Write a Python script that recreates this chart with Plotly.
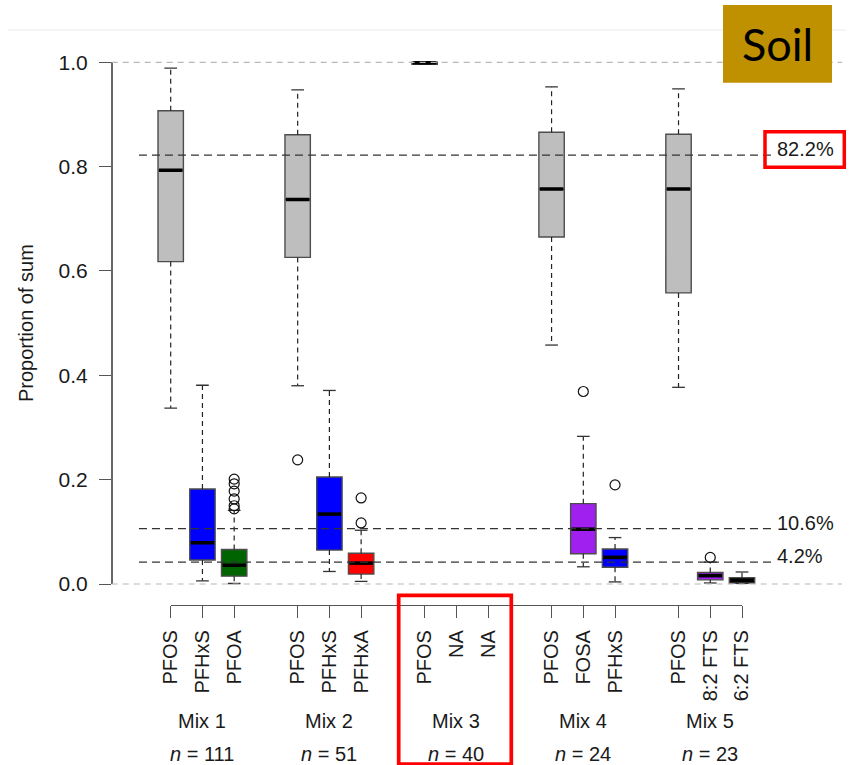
import plotly.graph_objects as go

# ---------------------------------------------------------------- data
mixes = ["Mix 1", "Mix 2", "Mix 3", "Mix 4", "Mix 5"]
n_samples = [111, 51, 40, 24, 23]
compounds = [
    ["PFOS", "PFHxS", "PFOA"],
    ["PFOS", "PFHxS", "PFHxA"],
    ["PFOS", "NA", "NA"],
    ["PFOS", "FOSA", "PFHxS"],
    ["PFOS", "8:2 FTS", "6:2 FTS"],
]
box_colors = [
    ["#BEBEBE", "#0000FF", "#006400"],
    ["#BEBEBE", "#0000FF", "#FF0000"],
    ["#BEBEBE", None, None],
    ["#BEBEBE", "#A020F0", "#0000FF"],
    ["#BEBEBE", "#A020F0", "#000000"],
]

# box statistics (proportion of sum), one row per mix, None = not available
whisker_low = [
    [0.337, 0.006, 0.001],
    [0.380, 0.024, 0.005],
    [0.996, None, None],
    [0.458, 0.033, 0.004],
    [0.377, 0.002, 0.001],
]
quart1 = [
    [0.618, 0.046, 0.015],
    [0.626, 0.065, 0.019],
    [0.996, None, None],
    [0.665, 0.058, 0.032],
    [0.558, 0.008, 0.002],
]
medians = [
    [0.793, 0.079, 0.036],
    [0.737, 0.134, 0.040],
    [0.999, None, None],
    [0.757, 0.105, 0.051],
    [0.757, 0.016, 0.007],
]
quart3 = [
    [0.907, 0.182, 0.066],
    [0.861, 0.205, 0.059],
    [1.000, None, None],
    [0.866, 0.154, 0.067],
    [0.862, 0.022, 0.012],
]
whisker_high = [
    [0.989, 0.381, 0.141],
    [0.947, 0.371, 0.103],
    [1.000, None, None],
    [0.953, 0.283, 0.089],
    [0.949, 0.042, 0.023],
]
outlier_values = [
    [[], [], [0.201, 0.192, 0.178, 0.163, 0.150, 0.144]],
    [[0.238], [], [0.165, 0.117]],
    [[], [], []],
    [[], [0.369], [0.190]],
    [[], [0.051], []],
]

# reference shares drawn as dashed lines
ref_values = [0.822, 0.106, 0.042]
ref_labels = ["82.2%", "10.6%", "4.2%"]
y_ticks = [0.0, 0.2, 0.4, 0.6, 0.8, 1.0]

# ---------------------------------------------------------------- layout geometry
W, H = 851, 765
FONT = "Liberation Sans, Arial, Helvetica, sans-serif"
X_FIRST_PX, X_LAST_PX = 170.7, 742.0      # pixel centres of slot 1 and slot 19
Y0_PX, Y1_PX = 584.0, 62.3                # pixel rows of 0.0 and 1.0
X_UNIT = (X_LAST_PX - X_FIRST_PX) / 18.0
Y_UNIT = (Y0_PX - Y1_PX)


def xdata(px):
    return 1 + (px - X_FIRST_PX) / X_UNIT


def ydata(py):
    return (Y0_PX - py) / Y_UNIT


def pxp(px):
    return px / W


def pyp(py):
    return 1 - py / H


BOX_W = 0.8
CAP_W = 0.4
EDGE = "#4d4d4d"

slot_pos, slot_text = [], []
for g, names in enumerate(compounds):
    for j, name in enumerate(names):
        slot_pos.append(4 * g + j + 1)
        slot_text.append(name)

fig = go.Figure()

# whiskers (dashed) and staples
wx, wy, cx, cy, mx, my, ox, oy = [], [], [], [], [], [], [], []
for g in range(len(mixes)):
    for j in range(3):
        if medians[g][j] is None:
            continue
        p = 4 * g + j + 1
        wx += [p, p, None, p, p, None]
        wy += [quart3[g][j], whisker_high[g][j], None, quart1[g][j], whisker_low[g][j], None]
        cx += [p - CAP_W / 2, p + CAP_W / 2, None, p - CAP_W / 2, p + CAP_W / 2, None]
        cy += [whisker_high[g][j], whisker_high[g][j], None, whisker_low[g][j], whisker_low[g][j], None]
        mx += [p - BOX_W / 2 + 0.03, p + BOX_W / 2 - 0.03, None]
        my += [medians[g][j], medians[g][j], None]
        for v in outlier_values[g][j]:
            ox.append(p)
            oy.append(v)

fig.add_trace(go.Scatter(x=wx, y=wy, mode="lines", hoverinfo="skip",
                         line=dict(color="#222222", width=1.2, dash="5px,4px"),
                         showlegend=False))
fig.add_trace(go.Scatter(x=cx, y=cy, mode="lines", hoverinfo="skip",
                         line=dict(color="#333333", width=1.3), showlegend=False))

# boxes
for g in range(len(mixes)):
    for j in range(3):
        if medians[g][j] is None:
            continue
        p = 4 * g + j + 1
        fig.add_trace(go.Box(
            x=[p], q1=[quart1[g][j]], median=[medians[g][j]], q3=[quart3[g][j]],
            lowerfence=[quart1[g][j]], upperfence=[quart3[g][j]],
            width=BOX_W, whiskerwidth=0, fillcolor=box_colors[g][j],
            line=dict(color=EDGE, width=1.4), boxpoints=False,
            showlegend=False, name=compounds[g][j],
        ))

# thick medians
fig.add_trace(go.Scatter(x=mx, y=my, mode="lines", hoverinfo="skip",
                         line=dict(color="#000000", width=3.6), showlegend=False))

# outliers
fig.add_trace(go.Scatter(x=ox, y=oy, mode="markers", showlegend=False,
                         marker=dict(symbol="circle-open", size=10,
                                     color="#111111", line=dict(width=1.2))))

# empty trace so the labelled axes (x2 / y2) get drawn
fig.add_trace(go.Scatter(x=[None], y=[None], xaxis="x2", yaxis="y2",
                         mode="markers", showlegend=False, hoverinfo="skip"))

shapes = []
# frame lines at 0 and 1
for v in (0.0, 1.0):
    shapes.append(dict(type="line", xref="x domain", x0=0, x1=1, yref="y", y0=v, y1=v,
                       line=dict(color="#b8b8b8", width=1.2, dash="6px,5px"), layer="above"))
# reference share lines
for v in ref_values:
    shapes.append(dict(type="line", xref="x", x0=0, x1=20, yref="y", y0=v, y1=v,
                       line=dict(color="#333333", width=1.3, dash="8px,5px"), layer="above"))
# thin separator at the top
shapes.append(dict(type="line", xref="paper", yref="paper", x0=pxp(8), x1=pxp(846),
                   y0=pyp(30), y1=pyp(30), line=dict(color="#ececec", width=1.2)))
# "Soil" badge
shapes.append(dict(type="rect", xref="paper", yref="paper", x0=pxp(723), x1=pxp(832),
                   y0=pyp(82.7), y1=pyp(5), fillcolor="#BF9000", line=dict(width=0)))
# highlight frames
shapes.append(dict(type="rect", xref="paper", yref="paper", x0=pxp(765), x1=pxp(844.3),
                   y0=pyp(167.3), y1=pyp(131.7), line=dict(color="#FF0000", width=3.5)))
shapes.append(dict(type="rect", xref="paper", yref="paper", x0=pxp(398.7), x1=pxp(511.3),
                   y0=pyp(764), y1=pyp(595.3), line=dict(color="#FF0000", width=3.7)))

annotations = []
for v, lab in zip(ref_values, ref_labels):
    annotations.append(dict(x=20, y=v, xref="x", yref="y", text=lab, showarrow=False,
                            xanchor="left", yanchor="middle", xshift=1, yshift=6,
                            font=dict(family=FONT, size=20, color="#1a1a1a")))
for g, (mix, n) in enumerate(zip(mixes, n_samples)):
    centre = 4 * g + 2
    annotations.append(dict(x=centre, y=pyp(720.5), xref="x", yref="paper", text=mix,
                            showarrow=False, xanchor="center", yanchor="middle",
                            font=dict(family=FONT, size=20, color="#1a1a1a")))
    annotations.append(dict(x=centre, y=pyp(753.5), xref="x", yref="paper",
                            text=f"<i>n</i> = {n}", showarrow=False,
                            xanchor="center", yanchor="middle",
                            font=dict(family=FONT, size=20, color="#1a1a1a")))
annotations.append(dict(x=pxp(26), y=pyp(323), xref="paper", yref="paper",
                        text="Proportion of sum", textangle=-90, showarrow=False,
                        xanchor="center", yanchor="middle",
                        font=dict(family=FONT, size=20, color="#1a1a1a")))
annotations.append(dict(x=pxp(777), y=pyp(44), xref="paper", yref="paper", text="Soil",
                        showarrow=False, xanchor="center", yanchor="middle",
                        font=dict(family="Lato, Open Sans, sans-serif", size=45,
                                  color="#000000")))

fig.update_layout(
    width=W, height=H, autosize=False,
    margin=dict(l=0, r=0, t=0, b=0, pad=0),
    template="none",
    paper_bgcolor="white", plot_bgcolor="rgba(0,0,0,0)",
    boxmode="overlay",
    showlegend=False,
    shapes=shapes,
    annotations=annotations,
    xaxis=dict(domain=[pxp(111.7), pxp(842)], range=[xdata(111.7), xdata(842)],
               visible=False, automargin=False, fixedrange=True),
    yaxis=dict(domain=[pyp(600), pyp(20)], range=[ydata(600), ydata(20)],
               visible=False, automargin=False, fixedrange=True),
    xaxis2=dict(domain=[pxp(X_FIRST_PX), pxp(X_LAST_PX)], range=[1, 19],
                anchor="free", position=pyp(605), side="bottom",
                showline=True, linecolor="#555555", linewidth=1.3,
                ticks="outside", ticklen=12, tickwidth=1.3, tickcolor="#555555",
                tickmode="array", tickvals=slot_pos, ticktext=slot_text, tickangle=-90,
                ticklabelstandoff=4,
                tickfont=dict(family=FONT, size=20, color="#1a1a1a"),
                showgrid=False, zeroline=False, automargin=False, fixedrange=True),
    yaxis2=dict(domain=[pyp(Y0_PX), pyp(Y1_PX)], range=[0, 1],
                anchor="free", position=pxp(111.7), side="left",
                showline=True, linecolor="#666666", linewidth=1.6,
                ticks="outside", ticklen=12, tickwidth=1.3, tickcolor="#555555",
                tickmode="array", tickvals=y_ticks, tickformat=".1f",
                ticklabelstandoff=7,
                tickfont=dict(family=FONT, size=21, color="#1a1a1a"),
                showgrid=False, zeroline=False, automargin=False, fixedrange=True),
)

fig.write_html("out.html")
